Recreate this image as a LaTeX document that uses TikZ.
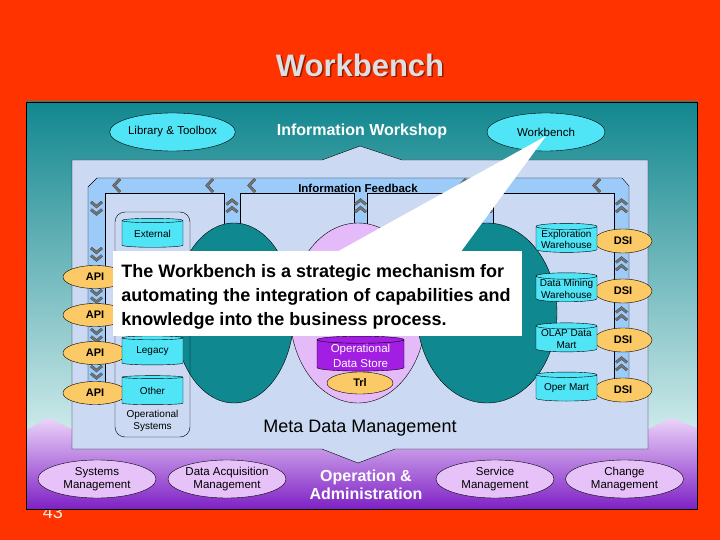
\documentclass[tikz,border=0pt]{standalone}
\usepackage{fontspec}
\setmainfont{Liberation Sans}
\usepackage{xcolor}
\usetikzlibrary{shapes.geometric,positioning}
\definecolor{SlideRed}{HTML}{FF3300}
\definecolor{TitleGray}{HTML}{DCE0E2}
\definecolor{PanelTeal}{HTML}{12878F}
\definecolor{PanelPale}{HTML}{D2ECEC}
\definecolor{FieldBlue}{HTML}{CBD9F2}
\definecolor{FeedBlue}{HTML}{9CCBFA}
\definecolor{StoreCyan}{HTML}{4FE4F6}
\definecolor{PlugOrange}{HTML}{FBC965}
\definecolor{HubTeal}{HTML}{0F8890}
\definecolor{HubPink}{HTML}{E4BAF8}
\definecolor{OdsPurple}{HTML}{A21EE2}
\definecolor{AdminTop}{HTML}{ECD4FA}
\definecolor{AdminBot}{HTML}{7E20C4}
\definecolor{MgmtLav}{HTML}{E6C2F8}
\definecolor{ChevGray}{HTML}{737373}
\newcommand{\BandEnd}{395}
\newcommand{\ChanEnd}{240}
\newcommand{\ChevL}[2]{\draw[chev] (#1+3,#2-6.5) -- (#1-3,#2) -- (#1+3,#2+6.5);}
\newcommand{\ChevDn}[2]{\draw[chev] (#1-5.5,#2-6) -- (#1,#2-1.5) -- (#1+5.5,#2-6);
 \draw[chev] (#1-5.5,#2+1.5) -- (#1,#2+6) -- (#1+5.5,#2+1.5);}
\newcommand{\ChevUp}[2]{\draw[chev] (#1-5.5,#2-1.5) -- (#1,#2-6) -- (#1+5.5,#2-1.5);
 \draw[chev] (#1-5.5,#2+6) -- (#1,#2+1.5) -- (#1+5.5,#2+6);}
\newcommand{\NoteText}{The Workbench is a strategic mechanism for\\automating the integration of capabilities and\\knowledge into the business process.}

\begin{document}
\begin{tikzpicture}[x=1pt,y=-1pt,
 store/.style={cylinder,shape border rotate=90,aspect=.12,draw,fill=StoreCyan,inner sep=0pt,
  minimum width=61pt,minimum height=29pt,align=center,font=\fontsize{10}{11.5}\selectfont},
 plug/.style={ellipse,draw,fill=PlugOrange,inner sep=0pt,font=\bfseries\fontsize{11}{12}\selectfont},
 hub/.style={ellipse,draw,inner sep=0pt,minimum height=180pt},
 tool/.style={ellipse,draw,fill=StoreCyan,inner sep=0pt,minimum width=118pt,minimum height=38pt,
  font=\fontsize{11.5}{13}\selectfont},
 mgmt/.style={ellipse,draw,fill=MgmtLav,inner sep=0pt,minimum width=118pt,minimum height=38pt,
  align=center,font=\fontsize{11.5}{13}\selectfont},
 chev/.style={draw=black!75,line width=.4pt,double=ChevGray,double distance=2pt}]
\useasboundingbox (0,0) rectangle (720,540);
\fill[SlideRed] (0,0) rectangle (720,540);
\node[font=\fontsize{18}{20}\selectfont,text=orange!15] (pageno) at (53,512) {43};
\node[font=\bfseries\fontsize{31}{34}\selectfont,text=SlideRed!55!black] at (361.5,66.5) {Workbench};
\node[font=\bfseries\fontsize{31}{34}\selectfont,text=TitleGray] (title) at (360,65) {Workbench};
\shade[top color=PanelTeal,bottom color=PanelPale] (26,102) rectangle (697,440);
\shade[top color=AdminTop,bottom color=AdminBot] (26,430) -- (48,418) -- (72,429) -- (648,429) -- (672,418)
 -- (697,428) -- (697,509) -- (26,509) -- cycle;
\draw (26,102) rectangle (697,509);
\filldraw[fill=FieldBlue] (72,160) -- (322,160) -- (360,146) -- (402,160) -- (648,160) -- (648,449)
 -- (395,449) -- (358,463) -- (322,449) -- (72,449) -- cycle;
\fill[FeedBlue] (88,187) -- (97,178) -- (622,178) -- (629,186) -- (629,\BandEnd) -- (614,\BandEnd)
 -- (614,193) -- (493,193) -- (493,\ChanEnd) -- (480,\ChanEnd) -- (480,193) -- (367,193) -- (367,\ChanEnd)
 -- (354,\ChanEnd) -- (354,193) -- (240,193) -- (240,\ChanEnd) -- (224,\ChanEnd) -- (224,193) -- (105,193)
 -- (105,\BandEnd) -- (88,\BandEnd) -- cycle;
\draw (88,\BandEnd) -- (88,187) -- (97,178) -- (622,178) -- (629,186) -- (629,\BandEnd);
\draw (105,\BandEnd) -- (105,193) -- (224,193) -- (224,\ChanEnd);
\draw (240,\ChanEnd) -- (240,193) -- (354,193) -- (354,\ChanEnd);
\draw (367,\ChanEnd) -- (367,193) -- (480,193) -- (480,\ChanEnd);
\draw (493,\ChanEnd) -- (493,193) -- (614,193) -- (614,\BandEnd);
\ChevL{117}{185.5}
\ChevL{210}{185.5}
\ChevL{252}{185.5}
\ChevL{463}{185.5}
\ChevL{500}{185.5}
\ChevL{597}{185.5}
\ChevDn{96.5}{208}
\ChevDn{96.5}{254}
\ChevDn{96.5}{296}
\ChevDn{96.5}{335}
\ChevDn{96.5}{372}
\ChevUp{621.5}{206}
\ChevUp{621.5}{264}
\ChevUp{621.5}{314}
\ChevUp{621.5}{364}
\ChevUp{232}{206}
\ChevUp{360.5}{206}
\ChevUp{486.5}{206}
\node[font=\bfseries\fontsize{11.5}{13}\selectfont] (feedback) at (358,188) {Information Feedback};
\node[hub,fill=HubTeal,minimum width=120pt] (hubL) at (234,313) {};
\node[hub,fill=HubPink,minimum width=136pt] (hubM) at (358,313) {};
\node[hub,fill=HubTeal,minimum width=140pt] (hubR) at (487,313) {};
\node[draw,rounded corners=10pt,minimum width=75pt,minimum height=225pt] (opsys) at (152.5,324.5) {};
\node[font=\fontsize{10}{12.5}\selectfont,align=center] (opsyslbl) at (152.5,421) {Operational\\Systems};
\node[plug,minimum width=64pt,minimum height=23pt] (api1) at (95,277) {API};
\node[plug,minimum width=64pt,minimum height=23pt] (api2) at (95,315) {API};
\node[plug,minimum width=64pt,minimum height=23pt] (api3) at (95,353) {API};
\node[plug,minimum width=64pt,minimum height=23pt] (api4) at (95,393) {API};
\node[store] (external) at (152.5,234) {External};
\node[store] (legacy) at (152.5,351.5) {Legacy};
\node[store] (other) at (152.5,391) {Other};
\node[plug,minimum width=58pt,minimum height=24pt] (dsi1) at (623,241) {DSI};
\node[plug,minimum width=58pt,minimum height=24pt] (dsi2) at (623,291) {DSI};
\node[plug,minimum width=58pt,minimum height=24pt] (dsi3) at (623,340) {DSI};
\node[plug,minimum width=58pt,minimum height=24pt] (dsi4) at (623,390) {DSI};
\node[store] (explore) at (566.5,239.5) {Exploration\\Warehouse};
\node[store] (mining) at (566.5,289) {Data Mining\\Warehouse};
\node[store] (olap) at (566.5,339) {OLAP Data\\Mart};
\node[store] (opermart) at (566.5,388) {Oper Mart};
\node[store,fill=OdsPurple,text=white,minimum width=87pt,minimum height=35pt,
 font=\fontsize{11.5}{15}\selectfont] (ods) at (360.5,355.5) {Operational\\Data Store};
\node[plug,minimum width=66pt,minimum height=22pt] (trl) at (360,383) {Trl};
\node[tool] (library) at (172.5,132) {Library \& Toolbox};
\node[tool] (bench) at (546,132) {Workbench};
\node[font=\bfseries\fontsize{16}{18}\selectfont,text=white] (workshop) at (362,131) {Information Workshop};
\node[font=\fontsize{18}{20}\selectfont] (metadata) at (360,428) {Meta Data Management};
\node[mgmt] (sysmgmt) at (97,479) {Systems\\Management};
\node[mgmt] (acqmgmt) at (227,479) {Data Acquisition\\Management};
\node[mgmt] (svcmgmt) at (495,479) {Service\\Management};
\node[mgmt] (chgmgmt) at (624.5,479) {Change\\Management};
\node[font=\bfseries\fontsize{16}{18.5}\selectfont,text=white,align=center] (opadmin) at (366,485)
 {Operation \&\\Administration};
\fill[white] (bench.center) ++(0,4) -- (335,253) -- (460,253) -- cycle;
\fill[white] (113,251) rectangle (522,336);
\node[inner sep=0pt,align=left,font=\bfseries\fontsize{18}{24}\selectfont] (note) at (316,296.5) {\NoteText};
\end{tikzpicture}
\end{document}
